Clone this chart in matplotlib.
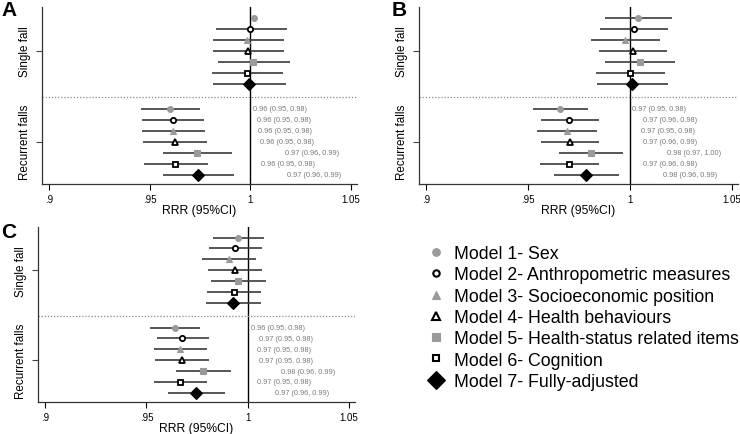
import matplotlib
matplotlib.use("Agg")
import matplotlib.pyplot as plt
from matplotlib.lines import Line2D
import numpy as np

plt.rcParams['font.family'] = ['Liberation Sans', 'DejaVu Sans']

models = ["Model 1- Sex", "Model 2- Anthropometric measures", "Model 3- Socioeconomic position",
          "Model 4- Health behaviours", "Model 5- Health-status related items",
          "Model 6- Cognition", "Model 7- Fully-adjusted"]
groups = ["Single fall", "Recurrent falls"]
xticks = [0.9, 0.95, 1.0, 1.05]
xticklabels = [".9", ".95", "1", "1.05"]
panel_names = ["A", "B", "C"]

# Panel A
a_single_est = [1.0018, 1.0000, 0.9985, 0.9990, 1.0015, 0.9985, 0.9993]
a_single_lo = [np.nan, 0.9827, 0.9814, 0.9815, 0.9839, 0.9809, 0.9815]
a_single_hi = [np.nan, 1.0180, 1.0168, 1.0168, 1.0196, 1.0163, 1.0176]
a_rec_est = [0.9602, 0.9616, 0.9617, 0.9626, 0.9737, 0.9627, 0.9742]
a_rec_lo = [0.9456, 0.9463, 0.9463, 0.9469, 0.9567, 0.9473, 0.9567]
a_rec_hi = [0.9752, 0.9772, 0.9777, 0.9784, 0.9907, 0.9789, 0.9917]
a_rec_labels = ["0.96 (0.95, 0.98)", "0.96 (0.95, 0.98)", "0.96 (0.95, 0.98)", "0.96 (0.95, 0.98)",
                "0.97 (0.96, 0.99)", "0.96 (0.95, 0.98)", "0.97 (0.96, 0.99)"]

# Panel B
b_single_est = [1.0041, 1.0020, 0.9977, 1.0013, 1.0049, 0.9998, 1.0012]
b_single_lo = [0.9878, 0.9853, 0.9811, 0.9847, 0.9878, 0.9834, 0.9839]
b_single_hi = [1.0206, 1.0186, 1.0147, 1.0181, 1.0221, 1.0170, 1.0185]
b_rec_est = [0.9657, 0.9703, 0.9690, 0.9707, 0.9809, 0.9702, 0.9786]
b_rec_lo = [0.9522, 0.9562, 0.9544, 0.9563, 0.9654, 0.9557, 0.9628]
b_rec_hi = [0.9794, 0.9847, 0.9837, 0.9850, 0.9965, 0.9848, 0.9944]
b_rec_labels = ["0.97 (0.95, 0.98)", "0.97 (0.96, 0.98)", "0.97 (0.95, 0.98)", "0.97 (0.96, 0.99)",
                "0.98 (0.97, 1.00)", "0.97 (0.96, 0.98)", "0.98 (0.96, 0.99)"]

# Panel C
c_single_est = [0.9952, 0.9939, 0.9908, 0.9938, 0.9951, 0.9931, 0.9926]
c_single_lo = [0.9828, 0.9811, 0.9775, 0.9805, 0.9818, 0.9798, 0.9792]
c_single_hi = [1.0082, 1.0070, 1.0043, 1.0070, 1.0090, 1.0064, 1.0064]
c_rec_est = [0.9643, 0.9677, 0.9666, 0.9674, 0.9780, 0.9667, 0.9746]
c_rec_lo = [0.9520, 0.9551, 0.9536, 0.9543, 0.9644, 0.9536, 0.9608]
c_rec_hi = [0.9767, 0.9810, 0.9798, 0.9807, 0.9918, 0.9800, 0.9887]
c_rec_labels = ["0.96 (0.95, 0.98)", "0.97 (0.95, 0.98)", "0.97 (0.95, 0.98)", "0.97 (0.95, 0.98)",
                "0.98 (0.96, 0.99)", "0.97 (0.95, 0.98)", "0.97 (0.96, 0.99)"]

panels = {
    "A": (a_single_est, a_single_lo, a_single_hi, a_rec_est, a_rec_lo, a_rec_hi, a_rec_labels),
    "B": (b_single_est, b_single_lo, b_single_hi, b_rec_est, b_rec_lo, b_rec_hi, b_rec_labels),
    "C": (c_single_est, c_single_lo, c_single_hi, c_rec_est, c_rec_lo, c_rec_hi, c_rec_labels),
}

# styles
GREY = "#9a9a9a"
marker_styles = [
    dict(marker="o", mfc=GREY, mec=GREY, ms=4.2, mew=0.8),
    dict(marker="o", mfc="white", mec="black", ms=3.8, mew=1.3),
    dict(marker="^", mfc=GREY, mec=GREY, ms=4.6, mew=0.8),
    dict(marker="^", mfc="white", mec="black", ms=4.3, mew=1.3),
    dict(marker="s", mfc=GREY, mec=GREY, ms=4.0, mew=0.8),
    dict(marker="s", mfc="white", mec="black", ms=3.6, mew=1.3),
    dict(marker="D", mfc="black", mec="black", ms=6.0, mew=0.8),
]
legend_sizes = [5.5, 4.6, 6.2, 5.4, 5.4, 4.4, 9.5]
legend_mew = [0.8, 1.5, 0.8, 1.5, 0.8, 1.5, 0.8]

axes_rects = {"A": [0.0568, 0.5747, 0.4257, 0.4069],
              "B": [0.5662, 0.5747, 0.4311, 0.4069],
              "C": [0.0514, 0.0735, 0.4284, 0.4024]}
letter_pos = {"A": (0.002, 0.998), "B": (0.529, 0.998), "C": (0.002, 0.488)}
label_offset = {"A": 0.0263, "B": 0.0216, "C": 0.0248}
row_step = 0.121

fig = plt.figure(figsize=(7.4, 4.35), dpi=100)

for name in panel_names:
    s_est, s_lo, s_hi, r_est, r_lo, r_hi, r_lab = panels[name]
    ax = fig.add_axes(axes_rects[name])
    for gi, (est, lo, hi) in enumerate([(s_est, s_lo, s_hi), (r_est, r_lo, r_hi)]):
        center = gi + 1
        for mi in range(len(models)):
            y = center + (mi - 3) * row_step
            if not np.isnan(lo[mi]):
                ax.plot([lo[mi], hi[mi]], [y, y], color="#3a3a3a", lw=1.2, zorder=2,
                        solid_capstyle="butt")
            ax.plot([est[mi]], [y], linestyle="none", zorder=3, **marker_styles[mi])
            if gi == 1:
                ax.text(hi[mi] + label_offset[name], y, r_lab[mi], fontsize=5.3,
                        color="#7a7a7a", va="center", ha="left")
    ax.axvline(1.0, color="black", lw=1.0, zorder=1)
    ax.axhline(1.51, color="#8a8a8a", lw=0.9, ls=(0, (1, 1.5)), zorder=1)
    ax.set_xlim(0.8965, 1.053)
    ax.set_ylim(2.465, 0.52)
    ax.set_xticks(xticks)
    ax.set_xticklabels(xticklabels, fontsize=7)
    ax.set_yticks([1, 2])
    ax.set_yticklabels(groups, rotation=90, va="center", fontsize=8.4)
    ax.tick_params(axis="y", length=4, width=0.8, pad=4, colors="#444444", labelcolor="black")
    ax.tick_params(axis="x", length=4, width=0.8, pad=3)
    ax.spines["top"].set_visible(False)
    ax.spines["right"].set_visible(False)
    ax.spines["left"].set_linewidth(0.9)
    ax.spines["bottom"].set_linewidth(0.9)
    ax.spines["left"].set_color("#333333")
    ax.spines["bottom"].set_color("#333333")
    ax.set_xlabel("RRR (95%CI)", fontsize=8.7, labelpad=0.0)
    fig.text(letter_pos[name][0], letter_pos[name][1], name, fontsize=15, fontweight="bold",
             ha="left", va="top")

handles = []
for mi, m in enumerate(models):
    st = dict(marker_styles[mi])
    st["ms"] = legend_sizes[mi]
    st["mew"] = legend_mew[mi]
    handles.append(Line2D([], [], linestyle="none", **st))
fig.legend(handles, models, loc="upper left", bbox_to_anchor=(0.577, 0.434),
           frameon=False, fontsize=12.8, labelspacing=0.24, handletextpad=0.5,
           handlelength=1.0, borderaxespad=0, borderpad=0)

fig.savefig("out.png", dpi=100)
